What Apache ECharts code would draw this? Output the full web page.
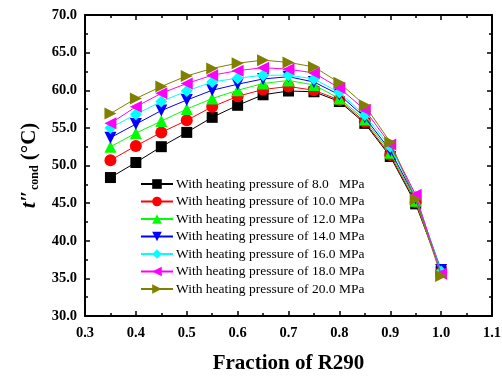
<!DOCTYPE html>
<html><head><meta charset="utf-8">
<script src="https://cdn.jsdelivr.net/npm/echarts@6/dist/echarts.min.js"></script>
<style>html,body{margin:0;padding:0;background:#fff}#c{width:502px;height:376px}</style>
</head><body><div id="c"></div>
<script>
var frac = [0.35,0.40,0.45,0.50,0.55,0.60,0.65,0.70,0.75,0.80,0.85,0.90,0.95,1.00];
var p8  = [48.4,50.4,52.5,54.4,56.4,58.0,59.4,59.9,59.8,58.5,55.6,51.2,44.9,35.9];
var p10 = [50.7,52.6,54.4,56.0,57.8,59.2,60.1,60.5,60.0,58.7,55.8,51.4,45.1,35.8];
var p12 = [52.5,54.3,55.9,57.5,58.9,60.0,60.9,61.3,60.7,58.9,56.1,51.7,45.3,35.9];
var p14 = [53.7,55.5,57.3,58.7,60.0,60.8,61.5,61.8,61.1,59.4,56.4,52.0,45.6,36.1];
var p16 = [55.0,56.8,58.5,59.9,61.1,61.6,62.0,62.0,61.5,59.7,56.7,52.5,45.9,35.9];
var p18 = [55.6,57.8,59.6,60.9,62.0,62.6,63.0,62.8,62.3,60.3,57.4,52.8,46.1,35.6];
var p20 = [56.9,58.9,60.5,61.9,62.9,63.6,64.0,63.7,63.1,61.0,58.0,53.1,45.5,35.3];
var names = ['With heating pressure of 8.0   MPa','With heating pressure of 10.0 MPa','With heating pressure of 12.0 MPa','With heating pressure of 14.0 MPa','With heating pressure of 16.0 MPa','With heating pressure of 18.0 MPa','With heating pressure of 20.0 MPa'];
var values = [p8,p10,p12,p14,p16,p18,p20];
var colors = ['#000000','#ff0000','#00ff00','#0000ff','#00ffff','#ff00ff','#808000'];
var symbols = ['rect','circle','triangle','triangle','diamond','triangle','triangle'];
var rotates = [0,0,0,180,0,90,-90];
var sizes = [11,12,12,12,12,12,12];

var font = '"Liberation Serif","Times New Roman",serif';
var series = values.map(function(v,i){
  return {
    name: names[i], type:'line', data: frac.map(function(x,j){return [x,v[j]];}),
    symbol: symbols[i], symbolRotate: rotates[i], symbolSize: sizes[i],
    itemStyle:{color:colors[i]}, lineStyle:{color:colors[i],width:1},
    z: 2+i
  };
});
var axisLine = {show:true, lineStyle:{color:'#000',width:2}};
var chart = echarts.init(document.getElementById('c'));
chart.setOption({
  animation:false,
  grid:{left:85,right:10,top:15,bottom:60,containLabel:false,outerBoundsMode:'none'},
  legend:{
    left:135, top:172, orient:'vertical', itemGap:3.5, itemWidth:32, itemHeight:12,
    textStyle:{fontFamily:font,fontSize:13.5,color:'#000',padding:[0,0,0,-2]},
    data: names
  },
  xAxis:[{
    type:'value', min:0.3, max:1.1, interval:0.1,
    axisLine:axisLine, axisTick:{inside:true,length:5,lineStyle:{width:1.5}},
    minorTick:{show:true,splitNumber:2,length:3,lineStyle:{color:'#000',width:1.5}},
    splitLine:{show:false},
    axisLabel:{fontFamily:font,fontWeight:'bold',fontSize:14.5,color:'#000',margin:10,formatter:function(v){return v.toFixed(1);}},
    name:'Fraction of R290', nameLocation:'middle', nameGap:37,
    nameTextStyle:{fontFamily:font,fontWeight:'bold',fontSize:21,color:'#000'}
  },{
    type:'value', position:'top', min:0.3, max:1.1, interval:0.1,
    axisLine:axisLine, axisTick:{inside:true,length:5,lineStyle:{width:1.5}},
    minorTick:{show:true,splitNumber:2,length:3,lineStyle:{color:'#000',width:1.5}},
    axisLabel:{show:false}, splitLine:{show:false}
  }],
  yAxis:[{
    type:'value', min:30, max:70, interval:5,
    axisLine:axisLine, axisTick:{inside:true,length:5,lineStyle:{width:1.5}},
    minorTick:{show:true,splitNumber:2,length:3,lineStyle:{color:'#000',width:1.5}},
    splitLine:{show:false},
    axisLabel:{fontFamily:font,fontWeight:'bold',fontSize:14.5,color:'#000',margin:8,formatter:function(v){return v.toFixed(1);}},
    name:'{i|t\u2033}{s|cond}{n| (\u00B0C)}', nameLocation:'middle', nameGap:44, nameRotate:90,
    nameTextStyle:{fontFamily:font,color:'#000',rich:{
      i:{fontFamily:font,fontStyle:'italic',fontWeight:'bold',fontSize:22,color:'#000'},
      s:{fontFamily:font,fontWeight:'bold',fontSize:12,color:'#000',verticalAlign:'bottom',padding:[10,0,0,0]},
      n:{fontFamily:font,fontWeight:'bold',fontSize:21,color:'#000'}
    }}
  },{
    type:'value', position:'right', min:30, max:70, interval:5,
    axisLine:axisLine, axisTick:{inside:true,length:5,lineStyle:{width:1.5}},
    minorTick:{show:true,splitNumber:2,length:3,lineStyle:{color:'#000',width:1.5}},
    axisLabel:{show:false}, splitLine:{show:false}
  }],
  series: series
});
</script></body></html>
